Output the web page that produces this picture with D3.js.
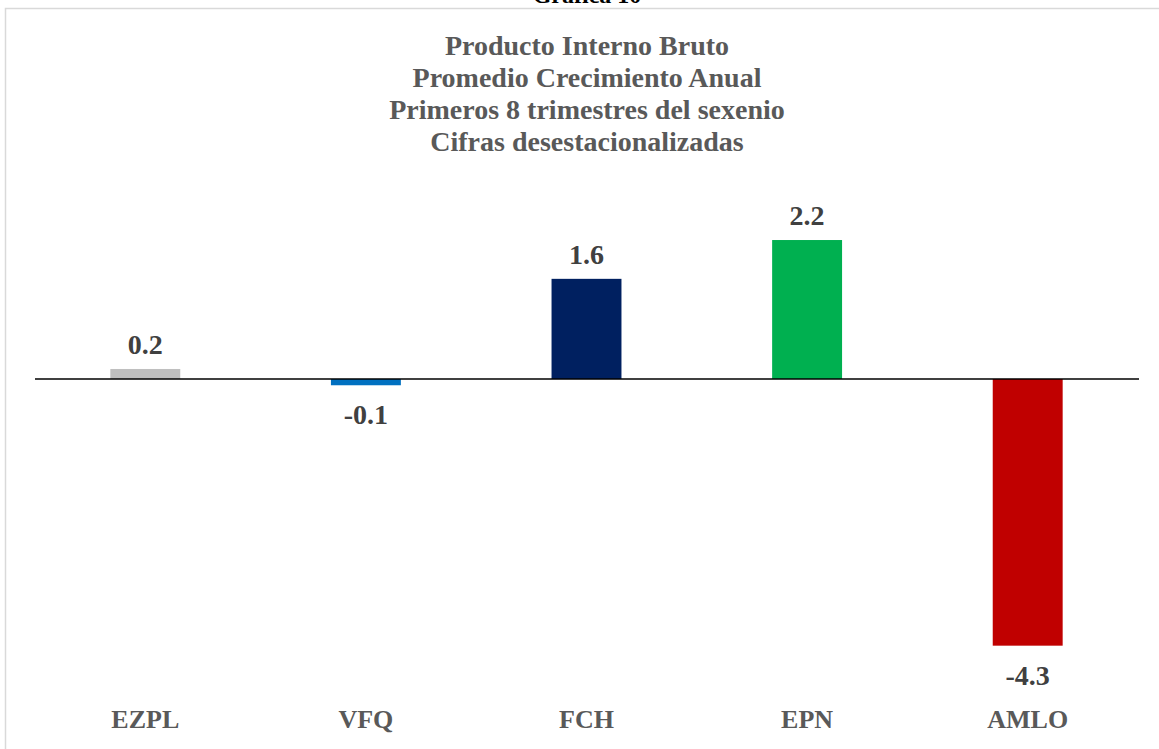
<!DOCTYPE html>
<html>
<head>
<meta charset="utf-8">
<script src="https://cdn.jsdelivr.net/npm/d3@7"></script>
<style>
  body { margin: 0; background: #fff; }
  text { font-family: "Liberation Serif", "DejaVu Serif", serif; font-weight: bold; }
</style>
</head>
<body>
<div id="chart"></div>
<script>
// data
const categories = ['EZPL', 'VFQ', 'FCH', 'EPN', 'AMLO'];
const values = [0.16, -0.1, 1.6, 2.22, -4.26];
const barColors = ['#bfbfbf', '#0070c0', '#002060', '#00b050', '#c00000'];
const titleLines = ['Producto Interno Bruto', 'Promedio Crecimiento Anual', 'Primeros 8 trimestres del sexenio', 'Cifras desestacionalizadas'];
const pageTitle = 'Gráfica 10';

const width = 1159;
const height = 749;

const svg = d3.select('#chart')
  .append('svg')
  .attr('width', width)
  .attr('height', height);

// outer frame of the chart
svg.append('rect')
  .attr('x', 5.5)
  .attr('y', 8.5)
  .attr('width', width + 10)
  .attr('height', height + 10)
  .attr('fill', 'none')
  .attr('stroke', '#d9d9d9')
  .attr('stroke-width', 1.5);

svg.append('text')
  .attr('x', 587)
  .attr('y', 3)
  .attr('text-anchor', 'middle')
  .style('font-size', '24px')
  .style('fill', '#000')
  .text(pageTitle);

//Title
svg.append('g')
  .selectAll('text')
  .data(titleLines)
  .enter()
  .append('text')
  .attr('x', 587)
  .attr('y', (d, i) => 55 + i * 32)
  .attr('text-anchor', 'middle')
  .style('font-size', '28px')
  .style('fill', '#595959')
  .text(d => d);

//Scales
const scaleX = d3.scaleBand()
  .domain(categories)
  .range([35, 1138])
  .paddingInner(0.683)
  .paddingOuter(0.3415);

const scaleY = d3.scaleLinear()
  .domain([-5, 3])
  .range([379 + 5 * 62.6, 379 - 3 * 62.6]);

const rows = categories.map((c, i) => ({ cat: c, value: values[i], color: barColors[i] }));

//Bars
svg.append('g')
  .selectAll('rect')
  .data(rows)
  .enter()
  .append('rect')
  .attr('x', d => scaleX(d.cat))
  .attr('width', scaleX.bandwidth())
  .attr('y', d => scaleY(Math.max(0, d.value)))
  .attr('height', d => Math.abs(scaleY(d.value) - scaleY(0)))
  .style('fill', d => d.color);

//Value labels (plain hyphen for the minus sign)
const fmt = d3.formatLocale({ decimal: '.', thousands: ',', grouping: [3], currency: ['', ''], minus: '-' }).format('.1f');
svg.append('g')
  .selectAll('text')
  .data(rows)
  .enter()
  .append('text')
  .attr('x', d => scaleX(d.cat) + scaleX.bandwidth() / 2)
  .attr('y', d => d.value >= 0 ? scaleY(d.value) - 15 : scaleY(d.value) + 39)
  .attr('text-anchor', 'middle')
  .style('font-size', '28px')
  .style('fill', '#404040')
  .text(d => fmt(d.value));

//Zero line
svg.append('line')
  .attr('x1', 35)
  .attr('x2', 1139)
  .attr('y1', scaleY(0))
  .attr('y2', scaleY(0))
  .style('stroke', '#000')
  .style('stroke-width', 1.5);

//Category axis at bottom
const axisX = d3.axisBottom(scaleX).tickSize(0).tickPadding(0);
const axisXNode = svg.append('g')
  .attr('class', 'axis-x')
  .attr('transform', 'translate(0,720)')
  .call(axisX);
axisXNode.select('.domain').remove();
axisXNode.selectAll('text')
  .attr('dy', '0.32em')
  .style('font-family', '"Liberation Serif", "DejaVu Serif", serif')
  .style('font-weight', 'bold')
  .style('font-size', '26px')
  .style('fill', '#595959');
</script>
</body>
</html>
